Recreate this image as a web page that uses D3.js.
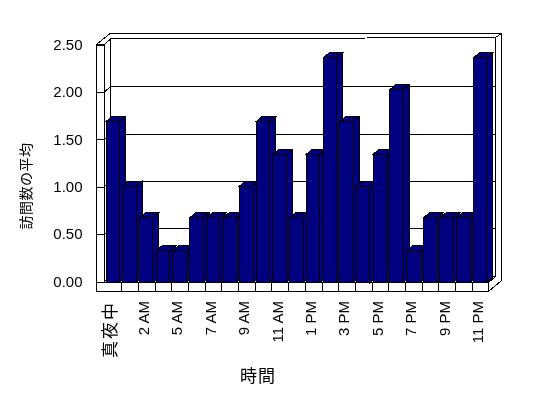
<!DOCTYPE html>
<html>
<head>
<meta charset="utf-8">
<script src="https://cdn.jsdelivr.net/npm/d3@7"></script>
<style>
  body { margin: 0; background: #fff; }
  svg { display: block; will-change: transform; }
  text { font-family: "Liberation Sans", Arial, "Noto Sans CJK JP", sans-serif; fill: #000; }
  .cjk { font-family: "Noto Sans CJK JP", sans-serif; }
</style>
</head>
<body>
<div id="chart"></div>
<script>
// hours on the x axis (one hour has no data, so 23 bars)
const hours = ['真夜中', '1 AM', '2 AM', '4 AM', '5 AM', '6 AM', '7 AM', '8 AM', '9 AM', '10 AM', '11 AM', '正午',
  '1 PM', '2 PM', '3 PM', '4 PM', '5 PM', '6 PM', '7 PM', '8 PM', '9 PM', '10 PM', '11 PM'];
// average number of visits
const visits = [1.67, 1.00, 0.67, 0.33, 0.33, 0.67, 0.67, 0.67, 1.00, 1.67, 1.33, 0.67,
  1.33, 2.33, 1.67, 1.00, 1.33, 2.00, 0.33, 0.67, 0.67, 0.67, 2.33];
const yTicks = [0, 0.5, 1, 1.5, 2, 2.5];
const yTitle = '訪問数の平均';
const xTitle = '時間';

const w = 548;
const h = 398;

// box corners (front plane, back wall, walls thickness)
const box = {
  left: 96.5, wallIn: 104.5, backL: 110.5, backR: 495.5, outerR: 501.5,
  floorR: 488.5, outerTop: 33.5, frontTop: 44.5, backTopL: 39, backTopR: 37.5,
  floorTop: 282.5, floorBottom: 291.5, backFloor: 276.5, outerFloorR: 280.5
};
const barDx = 6, barDy = -5;

const xScale = d3.scaleBand().domain(hours).range([box.wallIn, box.floorR]);
const yFront = d3.scaleLinear().domain([0, 2.5]).range([281.5, 44.5]);
const yBack = d3.scaleLinear().domain([0, 2.5]).range([276.3, 39.3]);
const yBar = d3.scaleLinear().domain([0, 2.5]).range([box.floorTop, 41.5]);

const svg = d3.select('#chart').
  append('svg').
  attr('width', w).
  attr('height', h).
  attr('shape-rendering', 'crispEdges');

const line = d3.line();
const frame = svg.append('g').attr('fill', 'none').attr('stroke', '#000');

// outer silhouette
frame.append('path').
  attr('fill', '#fff').
  attr('d', line([[box.left, box.frontTop], [box.backL - 0.5, box.outerTop], [box.outerR, box.outerTop],
    [box.outerR, box.outerFloorR], [box.floorR, box.floorBottom], [box.left, box.floorBottom]]) + 'Z');

// left wall inner face, back wall, floor edges
frame.append('path').attr('d', line([[box.left, box.frontTop], [box.wallIn, box.frontTop], [box.wallIn, box.floorTop]]));
frame.append('path').attr('d', line([[box.wallIn, box.frontTop], [box.backL, box.backTopL], [box.backR, box.backTopR], [box.outerR, box.outerTop]]));
frame.append('path').attr('d', line([[box.backL, box.backTopL], [box.backL, box.backFloor]]));
frame.append('path').attr('d', line([[box.backR, box.backTopR], [box.backR, box.backFloor], [box.floorR, box.floorTop]]));
frame.append('path').attr('d', line([[box.wallIn, box.floorTop], [box.floorR, box.floorTop], [box.floorR, box.floorBottom]]));

// gridlines: back wall and left wall
const grid = yTicks.filter(d => d < 2.5);
frame.selectAll('.grid').
  data(grid).
  enter().
  append('path').
  attr('class', 'grid').
  attr('d', d => line([[box.wallIn, yFront(d)], [box.backL, yBack(d)], [box.backR, yBack(d)]]));

// floor front dividers
frame.selectAll('.div').
  data(hours.slice(1)).
  enter().
  append('line').
  attr('class', 'div').
  attr('x1', d => Math.round(xScale(d)) + 0.5).
  attr('x2', d => Math.round(xScale(d)) + 0.5).
  attr('y1', box.floorTop).
  attr('y2', box.floorBottom);

// y axis labels + ticks on the wall front
const yAxis = d3.axisLeft(yFront).
  tickValues(yTicks).
  tickFormat(d3.format('.2f')).
  tickSize(-(box.wallIn - box.left)).
  tickPadding(14);

const yG = svg.append('g').
  attr('transform', 'translate(' + box.left + ',0)').
  call(yAxis);
yG.select('.domain').remove();
yG.selectAll('line').attr('stroke', '#000');
yG.selectAll('text').
  attr('font-size', 15).
  attr('font-family', '"Liberation Sans", Arial, sans-serif').
  attr('fill', '#000');

// bars
const bw = xScale.bandwidth();
const bars = svg.selectAll('.bar').
  data(hours.map((d, i) => ({ hour: d, v: visits[i] }))).
  enter().
  append('g').
  attr('class', 'bar').
  attr('fill', '#000080').
  attr('stroke', '#000');

bars.each(function (d) {
  const g = d3.select(this);
  const x0 = xScale(d.hour) + bw * 0.09;
  const x1 = x0 + bw * 0.81;
  const yt = yBar(d.v);
  const y0 = yBar(0);
  g.append('path').attr('d', line([[x1, yt], [x1 + barDx, yt + barDy], [x1 + barDx, y0 + barDy], [x1, y0]]) + 'Z');
  g.append('path').attr('d', line([[x0, yt], [x0 + barDx, yt + barDy], [x1 + barDx, yt + barDy], [x1, yt]]) + 'Z');
  g.append('rect').attr('x', x0).attr('y', yt).attr('width', x1 - x0).attr('height', y0 - yt);
});

// x labels, every other hour, rotated
const isCjk = s => /[^\x00-\x7F]/.test(s);
svg.selectAll('.xlab').
  data(hours.filter((d, i) => i % 2 === 0)).
  enter().
  append('text').
  attr('class', d => 'xlab' + (isCjk(d) ? ' cjk' : '')).
  attr('transform', d => 'translate(' + (xScale(d) + bw / 2 - 2.5) + ',301) rotate(-90)').
  attr('text-anchor', 'end').
  attr('dy', '0.35em').
  attr('font-size', d => isCjk(d) ? 17 : 15).
  attr('letter-spacing', d => isCjk(d) ? 2 : 0).
  text(d => d);

// axis titles
svg.append('text').
  attr('class', 'cjk').
  attr('transform', 'translate(26,186) rotate(-90)').
  attr('text-anchor', 'middle').
  attr('dy', '0.35em').
  attr('font-size', 14).
  attr('letter-spacing', 0.5).
  text(yTitle);

svg.append('text').
  attr('class', 'cjk').
  attr('x', 258).
  attr('y', 376).
  attr('text-anchor', 'middle').
  attr('dy', '0.35em').
  attr('font-size', 17).
  attr('letter-spacing', 1).
  text(xTitle);
</script>
</body>
</html>
